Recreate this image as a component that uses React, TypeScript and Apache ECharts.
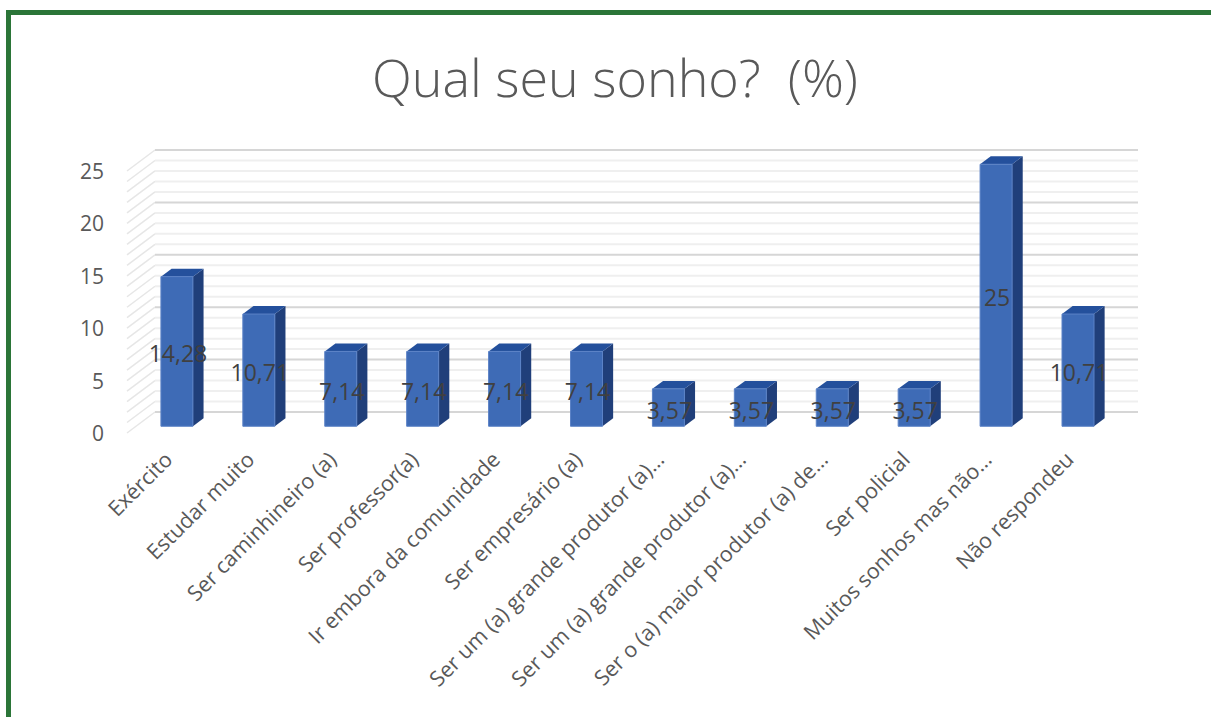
import React, { useEffect, useRef } from "react";
import * as echarts from "echarts";

const categories = [
  "Exército",
  "Estudar muito",
  "Ser caminhineiro (a)",
  "Ser professor(a)",
  "Ir embora da comunidade",
  "Ser empresário (a)",
  "Ser um (a) grande produtor (a)…",
  "Ser um (a) grande produtor (a)…",
  "Ser o (a) maior produtor (a) de…",
  "Ser policial",
  "Muitos sonhos mas não…",
  "Não respondeu",
];
const values = [14.28, 10.71, 7.14, 7.14, 7.14, 7.14, 3.57, 3.57, 3.57, 3.57, 25, 10.71];
const gridValues = [0, 1, 2, 3, 4, 5, 6, 7, 8, 9, 10, 11, 12, 13, 14, 15, 16, 17, 18, 19, 20, 21, 22, 23, 24, 25];

const DX = 28;
const DY = -21;
const FONT = "'Open Sans', sans-serif";

export default function App() {
  const ref = useRef<HTMLDivElement>(null);
  useEffect(() => {
    document.body.style.margin = "0";
    const chart = echarts.init(ref.current!, null, { renderer: "svg" });
    chart.setOption({
      animation: false,
      backgroundColor: "#ffffff",
      textStyle: { fontFamily: FONT },
      graphic: [
        {
          type: "rect",
          shape: { x: 8.5, y: 12.5, width: 1220, height: 720 },
          style: { fill: "none", stroke: "#2b7538", lineWidth: 5 },
          z: 10,
        },
        {
          type: "text",
          x: 615,
          y: 76,
          style: {
            text: "Qual seu sonho?  (%)",
            fill: "#595959",
            font: `300 52px ${FONT}`,
            textAlign: "center",
            textVerticalAlign: "middle",
          },
        },
      ],
      grid: { left: 127, right: 101, top: 171, bottom: 284 },
      xAxis: {
        type: "category",
        data: categories,
        axisLine: { show: false },
        axisTick: { show: false },
        axisLabel: {
          interval: 0,
          rotate: 45,
          fontSize: 21.5,
          color: "#595959",
          fontFamily: FONT,
          margin: 22,
        },
      },
      yAxis: {
        type: "value",
        min: 0,
        max: 25,
        interval: 5,
        splitLine: { show: false },
        axisLine: { show: false },
        axisTick: { show: false },
        axisLabel: { fontSize: 21, color: "#595959", fontFamily: FONT, margin: 23 },
      },
      series: [
        {
          type: "custom",
          data: gridValues.map((v) => [0, v]),
          encode: { x: 0, y: 1 },
          silent: true,
          z: 1,
          renderItem: (params: any, api: any) => {
            const v = api.value(1);
            const y = api.coord([0, v])[1];
            const cs = params.coordSys;
            const x0 = cs.x;
            const x1 = cs.x + cs.width;
            const major = v % 5 === 0;
            const col = major ? "#d6d6d6" : "#efefef";
            return {
              type: "group",
              children: [
                {
                  type: "line",
                  shape: { x1: x0, y1: y, x2: x0 + DX, y2: y + DY },
                  style: { stroke: "#e6e6e6", lineWidth: 1.5 },
                },
                {
                  type: "line",
                  shape: { x1: x0 + DX, y1: y + DY, x2: x1 + DX, y2: y + DY },
                  style: { stroke: col, lineWidth: 2 },
                },
              ],
            };
          },
        },
        {
          type: "custom",
          data: values.map((v, i) => [i, v]),
          encode: { x: 0, y: 1 },
          z: 2,
          renderItem: (params: any, api: any) => {
            const idx = api.value(0);
            const v = api.value(1);
            const p0 = api.coord([idx, 0]);
            const p1 = api.coord([idx, v]);
            const ox = DX * 0.32;
            const oy = DY * 0.32;
            const dx = DX * 0.38;
            const dy = DY * 0.38;
            const half = 16;
            const xl = p0[0] + ox - half;
            const xr = p0[0] + ox + half;
            const yb = p0[1] + oy;
            const yt = p1[1] + oy;
            const label = String(v).replace(".", ",");
            return {
              type: "group",
              children: [
                {
                  type: "polygon",
                  shape: { points: [[xr, yt], [xr + dx, yt + dy], [xr + dx, yb + dy], [xr, yb]] },
                  style: { fill: "#203f7a" },
                },
                {
                  type: "polygon",
                  shape: { points: [[xl, yt], [xl + dx, yt + dy], [xr + dx, yt + dy], [xr, yt]] },
                  style: { fill: "#24509c" },
                },
                {
                  type: "rect",
                  shape: { x: xl, y: yt, width: xr - xl, height: yb - yt },
                  style: { fill: "#3e6bb6", stroke: "#5b82c6", lineWidth: 1 },
                },
                {
                  type: "text",
                  x: p0[0] + ox + 1,
                  y: (yt + yb) / 2 + 2,
                  z2: 10,
                  style: {
                    text: label,
                    fill: "#404040",
                    font: `23px ${FONT}`,
                    textAlign: "center",
                    textVerticalAlign: "middle",
                  },
                },
              ],
            };
          },
        },
      ],
    });
    return () => chart.dispose();
  }, []);
  return <div ref={ref} style={{ width: 1211, height: 717 }} />;
}
